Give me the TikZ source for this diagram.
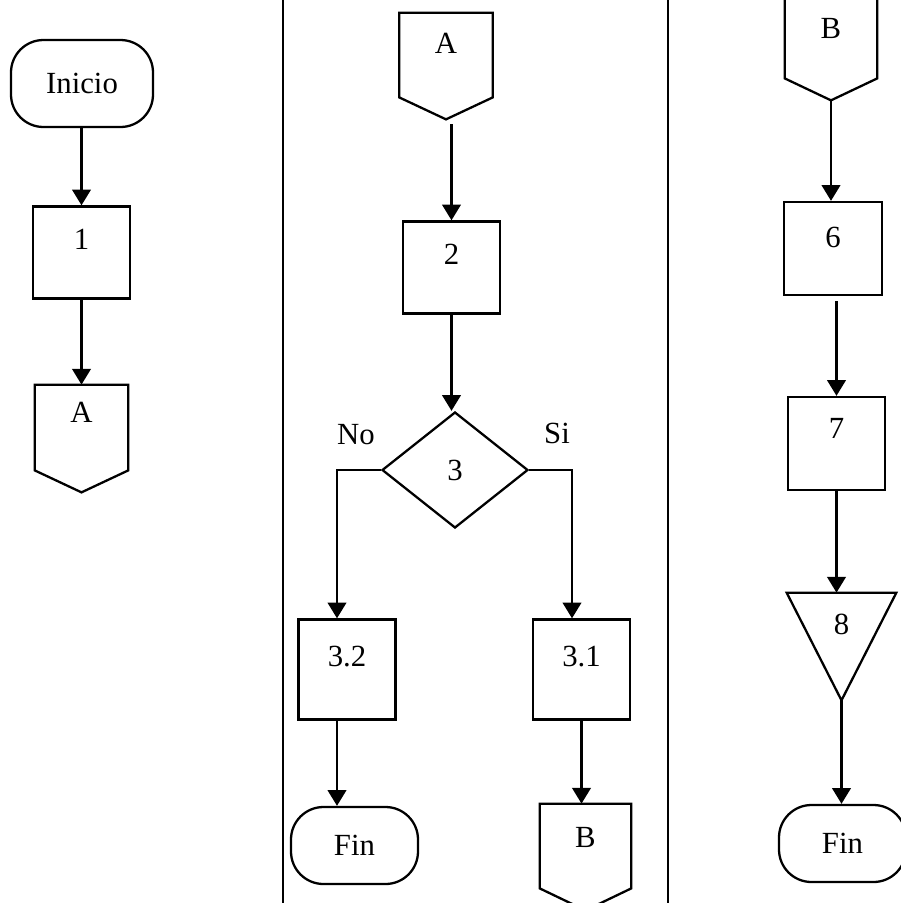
\documentclass[tikz,border=0pt]{standalone}
\usepackage{fontspec}
\setmainfont{Liberation Serif}
\usetikzlibrary{arrows.meta,positioning,shapes.geometric}

\begin{document}
\begin{tikzpicture}[
  font=\fontsize{17.5}{21}\selectfont,
  terminal/.style={draw,line width=1.3pt,rounded corners=6.5mm,inner sep=0pt,
                   minimum width=25.4mm,minimum height=15.4mm},
  proc/.style={draw,line width=1.3pt,inner sep=0pt,minimum width=19.4mm,
               minimum height=18.4mm,text depth=5.4mm},
  decision/.style={draw,line width=1.3pt,diamond,inner sep=0pt,
                   minimum width=29.2mm,minimum height=23.2mm},
  offpage/.style={inner sep=0pt,minimum width=18.6mm,minimum height=21.2mm,
                  text depth=8.8mm},
  merge/.style={inner sep=0pt,minimum width=21.8mm,minimum height=21.4mm,
                text depth=9mm},
  outline/.style={line width=1.3pt,line join=miter},
  arr/.style={-{Triangle[length=9pt,width=10.5pt]},line width=1.6pt},
]
\useasboundingbox (0,0) rectangle (18,-18.06);

% panel dividers
\draw[line width=0.6pt] (5.66,0) -- (5.66,-18.06);
\draw[line width=0.6pt] (13.36,0) -- (13.36,-18.06);

% left column
\node[terminal,minimum width=28.4mm,minimum height=17.4mm] (ini) at (1.64,-1.67) {Inicio};
\node[proc] (p1) at (1.63,-5.05) {1};
\node[offpage,text depth=10.6mm,minimum height=21.4mm] (ca1) at (1.63,-8.77) {A};
\draw[arr] (p1.north |- ini.south) -- (p1.north);
\draw[arr] (p1.south) -- (ca1.north);

% middle column
\node[offpage,text depth=9.2mm] (ca2) at (8.92,-1.32) {A};
\node[proc] (p2) at (9.03,-5.35) {2};
\node[decision] (d3) at (9.10,-9.40) {3};
\node[inner sep=0pt] (lno) at (7.12,-8.70) {No};
\node[inner sep=0pt] (lsi) at (11.14,-8.66) {Si};
\node[proc,minimum height=20mm] (p32) at (6.94,-13.39) {3.2};
\node[proc,minimum height=20mm] (p31) at (11.63,-13.39) {3.1};
\node[terminal] (fin2) at (7.09,-16.91) {Fin};
\node[offpage,minimum width=18.2mm,text depth=8mm] (cb2) at (11.71,-17.14) {B};
\draw[arr] ([yshift=-1mm]p2.north |- ca2.south) -- (p2.north);
\draw[arr] (p2.south) -- (p2.south |- d3.north);
\draw[arr] (d3.west) -| ([xshift=-2mm]p32.north);
\draw[arr] (d3.east) -| ([xshift=-1.9mm]p31.north);
\draw[arr] ([xshift=-2mm]p32.south) -- ([xshift=-2mm]p32.south |- fin2.north);
\draw[arr] (p31.south) -- (p31.south |- cb2.north);

% right column
\node[offpage,minimum width=18.4mm,text depth=7.6mm] (cb3) at (16.62,-0.94) {B};
\node[proc,minimum width=19.6mm,minimum height=18.6mm,text depth=4.6mm] (p6) at (16.66,-4.97) {6};
\node[proc,minimum height=18.6mm,text depth=6.2mm] (p7) at (16.73,-8.87) {7};
\node[merge] (m8) at (16.83,-12.93) {8};
\node[terminal] (fin3) at (16.85,-16.87) {Fin};
\draw[arr] (cb3.south) -- (cb3.south |- p6.north);
\draw[arr] ([yshift=-1mm]p7.north |- p6.south) -- (p7.north);
\draw[arr] (p7.south) -- (p7.south |- m8.north);
\draw[arr] (m8.south) -- (m8.south |- fin3.north);

% connector and merge outlines
\foreach \n in {ca1,ca2,cb2,cb3}
  \draw[outline] (\n.north west) -- (\n.north east) -- ([yshift=4.4mm]\n.south east)
    -- (\n.south) -- ([yshift=4.4mm]\n.south west) -- cycle;
\draw[outline] (m8.north west) -- (m8.north east) -- (m8.south) -- cycle;
\end{tikzpicture}
\end{document}
